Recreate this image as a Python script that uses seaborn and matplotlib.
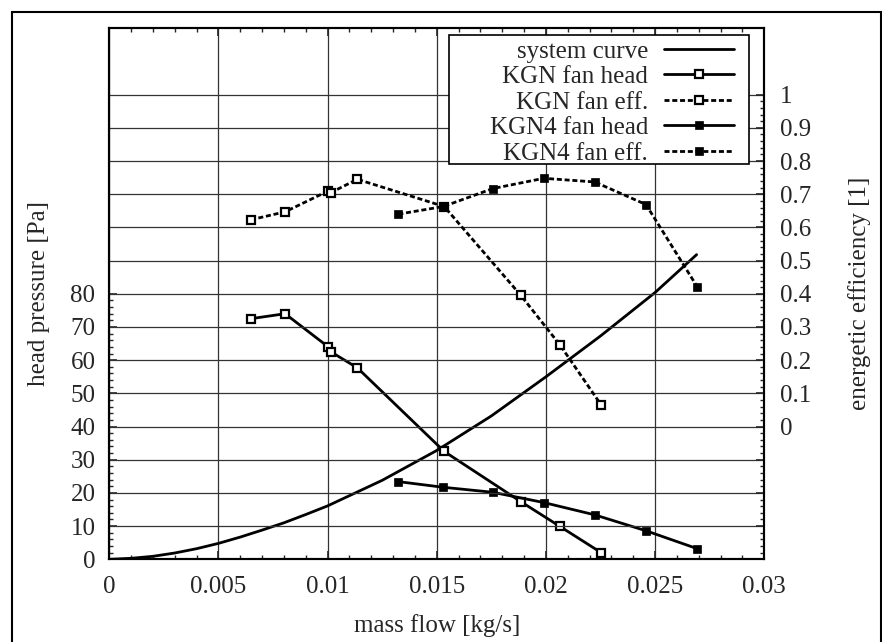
import numpy as np
import seaborn as sns
import matplotlib.pyplot as plt
from matplotlib.ticker import MultipleLocator, FixedLocator, FuncFormatter
from matplotlib.patches import Rectangle

# system curve
sys_flow = [0, 0.001, 0.002, 0.003, 0.004, 0.005, 0.006, 0.007, 0.008, 0.009, 0.01,
            0.0125, 0.015, 0.0175, 0.02, 0.0225, 0.025, 0.0269]
sys_head = [0, 0.3, 0.9, 1.9, 3.2, 4.8, 6.7, 8.8, 11.0, 13.5, 16.1,
            23.8, 32.8, 43.2, 55.0, 67.3, 80.4, 91.8]

# KGN fan
kgn_flow = [0.00648, 0.00805, 0.01003, 0.01015, 0.01136, 0.01534, 0.01884, 0.02064, 0.02253]
kgn_head = [72.5, 74.0, 64.0, 62.5, 57.7, 32.5, 17.4, 9.9, 2.0]
kgn_eff = [0.623, 0.647, 0.71, 0.705, 0.745, 0.663, 0.396, 0.246, 0.065]

# KGN4 fan
kgn4_flow = [0.01324, 0.0153, 0.01756, 0.0199, 0.02223, 0.02458, 0.02693]
kgn4_head = [23.4, 21.7, 20.2, 17.1, 13.4, 8.6, 3.2]
kgn4_eff = [0.640, 0.663, 0.717, 0.748, 0.737, 0.669, 0.421]

labels = ["system curve", "KGN fan head", "KGN fan eff.", "KGN4 fan head", "KGN4 fan eff."]

sns.set_style("white")
plt.rcParams["font.family"] = ["Liberation Serif", "DejaVu Serif"]
fs = 18

fig = plt.figure(figsize=(8.82, 6.42), dpi=100)
ax = fig.add_axes([109.3 / 882, 1 - 559.3 / 642, 655 / 882, 531 / 642])
ax2 = ax.twinx()

# outer frame (gnuplot style)
fig.patches.append(Rectangle((12.3 / 882, -0.1), 868.4 / 882, 1.1 - 11.7 / 642,
                             transform=fig.transFigure, fill=False,
                             edgecolor="black", lw=1.5))

lw = 2.0
dash = (0, (1.8, 1.0))
open_sq = dict(marker="s", markersize=6.2, markerfacecolor="white",
               markeredgecolor="black", markeredgewidth=1.6)
fill_sq = dict(marker="s", markersize=6.0, markerfacecolor="black",
               markeredgecolor="black", markeredgewidth=0.5)

handles = []
sns.lineplot(x=sys_flow, y=sys_head, ax=ax, color="black", lw=lw)
handles.append(ax.lines[-1])
sns.lineplot(x=kgn_flow, y=kgn_head, ax=ax, color="black", lw=lw, **open_sq)
handles.append(ax.lines[-1])
sns.lineplot(x=kgn_flow, y=kgn_eff, ax=ax2, color="black", lw=lw, linestyle=dash, **open_sq)
handles.append(ax2.lines[-1])
sns.lineplot(x=kgn4_flow, y=kgn4_head, ax=ax, color="black", lw=lw, **fill_sq)
handles.append(ax.lines[-1])
sns.lineplot(x=kgn4_flow, y=kgn4_eff, ax=ax2, color="black", lw=lw, linestyle=dash, **fill_sq)
handles.append(ax2.lines[-1])

# axes ranges
ax.set_xlim(0, 0.03)
ax.set_ylim(0, 160)
ax2.set_ylim(-0.4, 1.2)

# ticks
ax.xaxis.set_major_locator(MultipleLocator(0.005))
ax.xaxis.set_minor_locator(MultipleLocator(0.001))
ax.xaxis.set_major_formatter(FuncFormatter(lambda v, p: f"{v:g}"))
ax.yaxis.set_major_locator(FixedLocator(np.arange(0, 81, 10)))
ax.yaxis.set_minor_locator(FixedLocator(np.arange(0, 80, 2)))
ax2.yaxis.set_major_locator(FixedLocator(np.round(np.arange(-0.4, 1.01, 0.1), 2)))
ax2.yaxis.set_minor_locator(FixedLocator(np.round(np.arange(-0.4, 1.0, 0.02), 2)))
ax2.yaxis.set_major_formatter(
    FuncFormatter(lambda v, p: f"{abs(v):g}" if abs(v) < 1e-9 else (f"{v:g}" if v > 0 else "")))

ax.tick_params(axis="x", which="both", direction="in", top=True, bottom=True,
               labelsize=fs, pad=12)
ax.tick_params(axis="y", which="both", direction="in", left=True, right=False,
               labelsize=fs, pad=10)
ax2.tick_params(axis="y", which="both", direction="in", right=True, left=False,
                labelsize=fs, pad=11)
for a in (ax, ax2):
    a.tick_params(which="major", length=6, width=1.2)
    a.tick_params(which="minor", length=3, width=1.0)
    for s in a.spines.values():
        s.set_linewidth(1.5)
        s.set_color("black")

# grid
ax.grid(axis="x", which="major", color="0.2", lw=0.9)
ax2.grid(axis="y", which="major", color="0.2", lw=0.9)
ax.grid(axis="y", visible=False)

# axis labels
ax.set_xlabel("mass flow [kg/s]", fontsize=fs)
ax.set_ylabel("head pressure [Pa]", fontsize=fs)
ax2.set_ylabel("energetic efficiency [1]", fontsize=fs)
ax.xaxis.set_label_coords(0.5, -0.103)
ax.yaxis.set_label_coords(-0.0905, 0.5)
ax2.yaxis.set_label_coords(1.128, 0.5)

# key box, gnuplot style: wide frame with right-aligned labels
ax2.add_patch(Rectangle((0.519, 0.744), 0.458, 0.243, transform=ax2.transAxes,
                        facecolor="white", edgecolor="black", lw=1.2, zorder=4))
leg = ax2.legend(handles, labels, loc="upper right", bbox_to_anchor=(0.9537, 0.9775),
                 borderaxespad=0, markerfirst=False, fontsize=fs, frameon=False,
                 handlelength=2.8, handletextpad=0.64, labelspacing=0.12,
                 borderpad=0)
leg.set_zorder(5)

fig.savefig("out.png", dpi=100)
